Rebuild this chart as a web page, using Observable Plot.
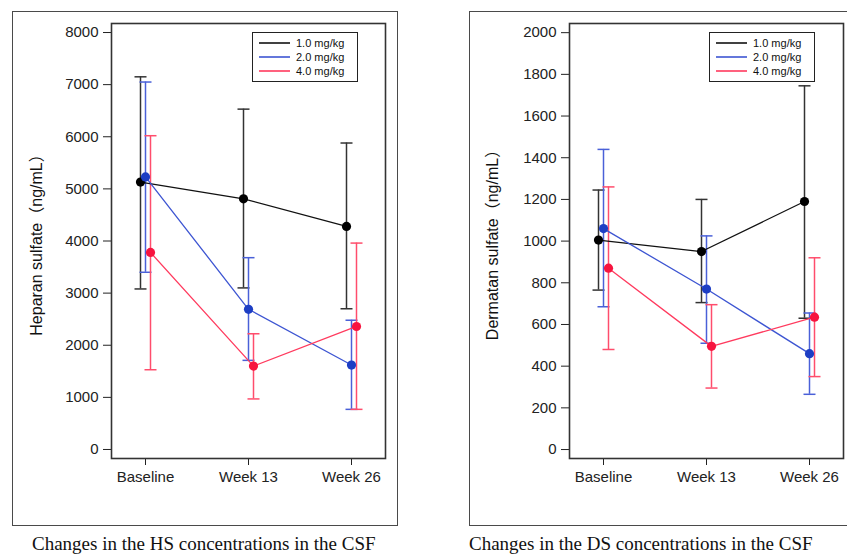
<!DOCTYPE html>
<html>
<head>
<meta charset="utf-8">
<script src="https://cdn.jsdelivr.net/npm/d3@7"></script>
<script src="https://cdn.jsdelivr.net/npm/@observablehq/plot@0.6"></script>
<style>
  html, body { margin: 0; padding: 0; background: #fff; }
  #root { position: relative; width: 847px; height: 555px; overflow: hidden; background: #fff; font-family: "Liberation Sans", Arial, sans-serif; }
  .outer { position: absolute; border: 1.5px solid #4a4a4a; box-sizing: border-box; }
  .chart { position: absolute; top: 0; }
  .ylabel { position: absolute; font-size: 16px; color: #111; white-space: nowrap; transform: translate(-50%, -50%) rotate(-90deg); font-family: "Liberation Sans", "Noto Sans CJK JP", sans-serif; }
  .caption { position: absolute; font-family: "Liberation Serif", "Times New Roman", serif; font-size: 19px; color: #111; white-space: nowrap; }
  .legend { position: absolute; border: 1.2px solid #222; background: #fff; box-sizing: border-box; font-size: 11px; color: #111; padding: 3px 0 0 6px; }
  .legend .row { display: flex; align-items: center; height: 14px; }
  .legend svg { margin-right: 6px; }
</style>
</head>
<body>
<div id="root"></div>
<script>
// ---- data ----
const timepoints = ["Baseline", "Week 13", "Week 26"];
const doses = ["1.0 mg/kg", "2.0 mg/kg", "4.0 mg/kg"];

// Heparan sulfate (ng/mL)
const hsMean1  = [5130, 4810, 4280];
const hsUpper1 = [7150, 6530, 5880];
const hsLower1 = [3080, 3100, 2700];
const hsMean2  = [5230, 2690, 1620];
const hsUpper2 = [7050, 3680, 2480];
const hsLower2 = [3400, 1710, 770];
const hsMean4  = [3780, 1600, 2360];
const hsUpper4 = [6020, 2220, 3960];
const hsLower4 = [1530, 970, 770];
const hsTicks = [0, 1000, 2000, 3000, 4000, 5000, 6000, 7000, 8000];

// Dermatan sulfate (ng/mL)
const dsMean1  = [1005, 950, 1190];
const dsUpper1 = [1245, 1200, 1745];
const dsLower1 = [765, 705, 630];
const dsMean2  = [1060, 770, 460];
const dsUpper2 = [1440, 1025, 655];
const dsLower2 = [685, 510, 265];
const dsMean4  = [870, 495, 635];
const dsUpper4 = [1260, 695, 920];
const dsLower4 = [480, 295, 350];
const dsTicks = [0, 200, 400, 600, 800, 1000, 1200, 1400, 1600, 1800, 2000];

// ---- styles ----
const lineColors = ["#111111", "#3d55d2", "#ff3a5e"];
const dotColors  = ["#000000", "#1d3ec4", "#f7143f"];
const barColors  = ["#333333", "#4a60d8", "#ff4d6c"];
const offsets = [-5, 0, 5];

function series(means, uppers, lowers) {
  return means.map((m, k) => timepoints.map((t, i) => ({
    time: t, dose: doses[k], mean: m[i], hi: uppers[k][i], lo: lowers[k][i]
  })));
}

const capSymbol = {
  draw(context, size) {
    const r = Math.sqrt(size / Math.PI);
    context.moveTo(-r, 0);
    context.lineTo(r, 0);
  }
};

function makeChart(groups, yDomain, ticks, opts) {
  const marks = [];
  groups.forEach((data, k) => {
    marks.push(Plot.ruleX(data, {x: "time", y1: "lo", y2: "hi", stroke: barColors[k], strokeWidth: 1.5, dx: offsets[k]}));
    marks.push(Plot.dot(data, {x: "time", y: "hi", symbol: capSymbol, r: 6, stroke: barColors[k], strokeWidth: 1.5, fill: "none", dx: offsets[k]}));
    marks.push(Plot.dot(data, {x: "time", y: "lo", symbol: capSymbol, r: 6, stroke: barColors[k], strokeWidth: 1.5, fill: "none", dx: offsets[k]}));
  });
  groups.forEach((data, k) => {
    marks.push(Plot.line(data, {x: "time", y: "mean", stroke: lineColors[k], strokeWidth: 1.3, dx: offsets[k]}));
  });
  groups.forEach((data, k) => {
    marks.push(Plot.dot(data, {x: "time", y: "mean", r: 4.6, fill: dotColors[k], stroke: "none", dx: offsets[k]}));
  });
  marks.push(Plot.frame({stroke: "#333", strokeWidth: 1.6}));
  return Plot.plot({
    width: opts.width,
    height: 500,
    marginLeft: opts.marginLeft,
    marginRight: opts.marginRight,
    marginTop: 23,
    marginBottom: 42,
    style: {fontFamily: "'Liberation Sans', Arial, sans-serif", fontSize: "15px", color: "#222", background: "transparent", overflow: "visible"},
    x: {type: "point", domain: timepoints, padding: 0.32, tickSize: 7, tickPadding: 6, label: null},
    y: {domain: yDomain, ticks: ticks, tickFormat: d3.format("d"), tickSize: 8, tickPadding: 5, label: null},
    marks
  });
}

const root = document.getElementById("root");

function addDiv(cls, style, html) {
  const d = document.createElement("div");
  d.className = cls;
  Object.assign(d.style, style);
  if (html) d.innerHTML = html;
  root.appendChild(d);
  return d;
}

// outer frames
addDiv("outer", {left: "12px", top: "11px", width: "386px", height: "515px"});
addDiv("outer", {left: "469px", top: "11px", width: "400px", height: "515px"});

// left chart
const left = makeChart(series([hsMean1, hsMean2, hsMean4], [hsUpper1, hsUpper2, hsUpper4], [hsLower1, hsLower2, hsLower4]),
  [-173, 8173], hsTicks, {width: 400, marginLeft: 111, marginRight: 15});
const lw = addDiv("chart", {left: "0px"});
lw.appendChild(left);

// right chart
const right = makeChart(series([dsMean1, dsMean2, dsMean4], [dsUpper1, dsUpper2, dsUpper4], [dsLower1, dsLower2, dsLower4]),
  [-43, 2044], dsTicks, {width: 389, marginLeft: 111, marginRight: 4});
const rw = addDiv("chart", {left: "458px"});
rw.appendChild(right);

// y labels
addDiv("ylabel", {left: "35px", top: "241px"}, "Heparan sulfate（ng/mL）");
addDiv("ylabel", {left: "491px", top: "241px"}, "Dermatan sulfate（ng/mL）");

// legends
function legend(x) {
  const rows = doses.map((d, k) => `<div class="row"><svg width="31" height="4"><line x1="0" y1="2" x2="31" y2="2" stroke="${lineColors[k]}" stroke-width="1.6"/></svg>${d}</div>`).join("");
  addDiv("legend", {left: x + "px", top: "32px", width: "106px", height: "50px"}, rows);
}
legend(252);
legend(709);

// captions
addDiv("caption", {left: "32px", top: "533px"}, "Changes in the HS concentrations in the CSF");
addDiv("caption", {left: "469px", top: "533px"}, "Changes in the DS concentrations in the CSF");
</script>
</body>
</html>
